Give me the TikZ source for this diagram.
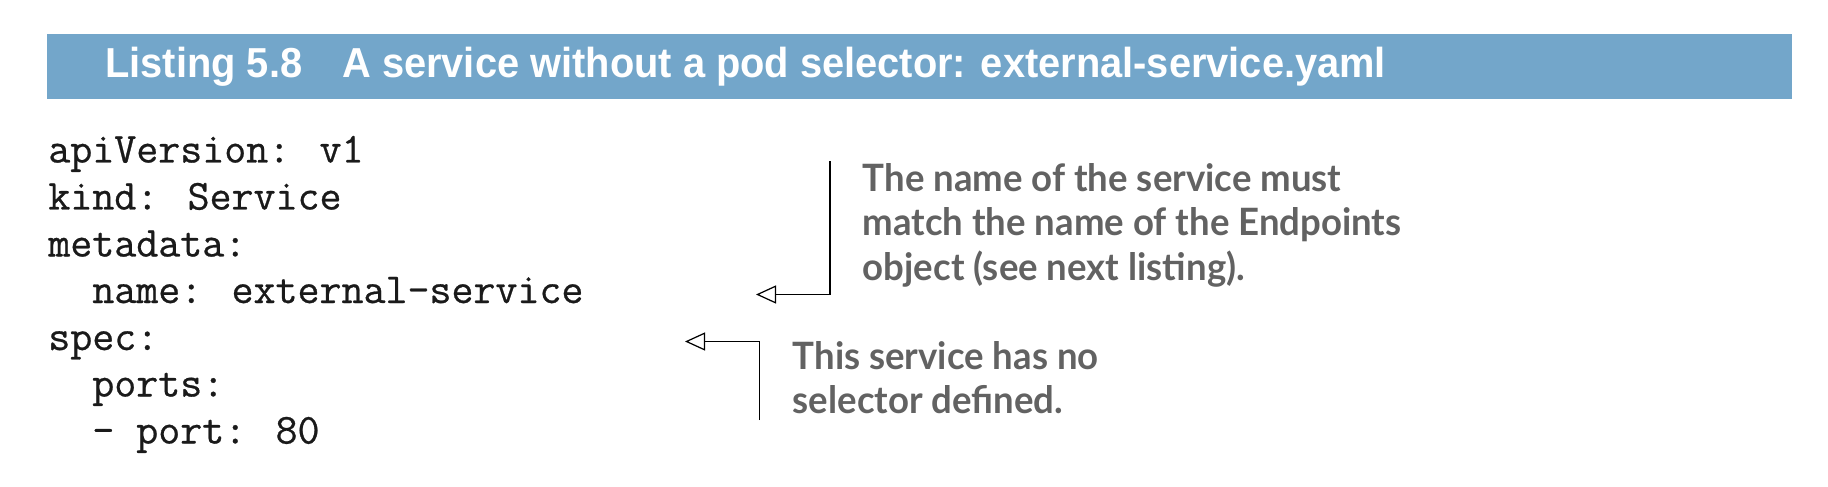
\documentclass[tikz,border=0pt]{standalone}
\usepackage{fontspec}
\setmainfont{Liberation Serif}
\newfontfamily\headfont{Liberation Sans}[FakeStretch=0.95]
\newfontfamily\notefont{Lato}[FakeStretch=0.97]
\newfontfamily\codefont{Latin Modern Mono}[FakeBold=0.6]
\usetikzlibrary{arrows.meta}
\definecolor{barblue}{RGB}{115,166,202}
\definecolor{notegray}{RGB}{98,98,98}
\definecolor{codeblack}{RGB}{26,26,26}
\tikzset{
	listinghead/.style={white, anchor=base west, inner sep=0pt, font=\headfont\bfseries\fontsize{23.85pt}{28pt}\selectfont},
	codeline/.style={codeblack, anchor=base west, inner sep=0pt, font=\codefont\fontsize{24.3pt}{28pt}\selectfont},
	notetext/.style={notegray, anchor=base west, inner sep=0pt, align=left, font=\notefont\bfseries\fontsize{21.45pt}{25.04pt}\selectfont},
	callout/.style={draw=black, line width=0.7pt, -{Triangle[open, length=0.40cm, width=0.36cm]}}
}
\begin{document}
	\begin{tikzpicture}
		\useasboundingbox (0.00,0.00) rectangle (36.56,9.72);
		\fill[barblue] (0.94,7.74) rectangle (35.84,9.04);
		\node[listinghead] (head) at (2.10,8.16) {Listing 5.8\hspace{0.80cm}A service without a pod selector: external-service.yaml};
		\node[codeline] (l1) at (0.96,6.47) {apiVersion: v1};
		\node[codeline] (l2) at (0.96,5.53) {kind: Service};
		\node[codeline] (l3) at (0.96,4.59) {metadata:};
		\node[codeline] (l4) at (0.96,3.66) {\phantom{xx}name: external-service};
		\node[codeline] (l5) at (0.96,2.72) {spec:};
		\node[codeline] (l6) at (0.96,1.79) {\phantom{xx}ports:};
		\node[codeline] (l7) at (0.96,0.85) {\phantom{xx}- port: 80};
		% base of a multi-line node = its last line
		\node[notetext] (note1) at (17.25,4.12) {The name of the service must\\match the name of the Endpoints\\object (see next listing).};
		\node[notetext] (note2) at (15.85,1.45) {This service has no\\selector defined.};
		\coordinate (top1) at (16.60,6.49);
		\coordinate (tip1) at (15.12,3.83);
		\coordinate (foot2) at (15.19,1.32);
		\coordinate (tip2) at (13.70,2.89);
		\draw[callout] (top1) |- (tip1);
		\draw[callout] (foot2) |- (tip2);
	\end{tikzpicture}
\end{document}
